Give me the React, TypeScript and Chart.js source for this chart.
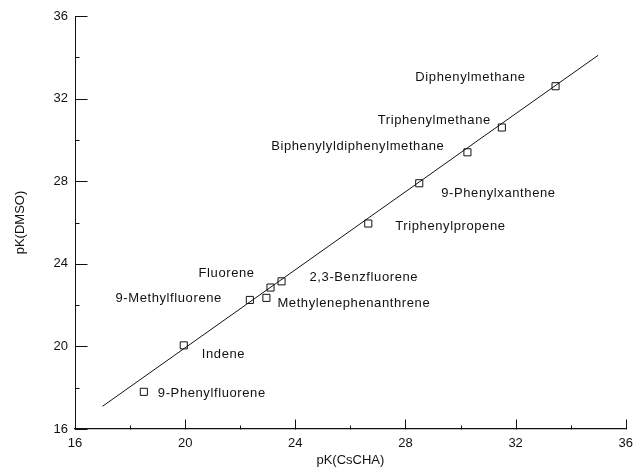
import React, { useEffect, useRef } from "react";
import { Chart, registerables } from "chart.js";

Chart.register(...registerables);

// ---- data ----
const compounds = [
  "9-Phenylfluorene",
  "Indene",
  "9-Methylfluorene",
  "Methylenephenanthrene",
  "Fluorene",
  "2,3-Benzfluorene",
  "Triphenylpropene",
  "9-Phenylxanthene",
  "Biphenylyldiphenylmethane",
  "Triphenylmethane",
  "Diphenylmethane",
];
const pKCsCHA = [18.5, 19.95, 22.35, 22.95, 23.1, 23.5, 26.65, 28.5, 30.25, 31.5, 33.45];
const pKDMSO = [17.8, 20.05, 22.25, 22.35, 22.85, 23.15, 25.95, 27.9, 29.4, 30.6, 32.6];

// fitted correlation line end points
const fitX = [17.0, 35.0];
const fitY = [17.1, 34.1];

// axis ticks
const xTickValues = [16, 18, 20, 22, 24, 26, 28, 30, 32, 34, 36];
const yTickValues = [16, 18, 20, 22, 24, 26, 28, 30, 32, 34, 36];
const majorTickValues = [16, 20, 24, 28, 32, 36];

// ---- layout / style (not data) ----
const FONT = "'Liberation Sans', Arial, sans-serif";
const INK = "#111";
// label placement relative to each point: [dx, dy, align]
const labelLayout: [number, number, CanvasTextAlign][] = [
  [14, 2, "left"],
  [18, 9, "left"],
  [-28, -2, "right"],
  [11, 6, "left"],
  [-72, -14, "left"],
  [28, -4, "left"],
  [27, 3, "left"],
  [22, 10, "left"],
  [-23, -6, "right"],
  [-11, -7, "right"],
  [-30, -9, "right"],
];

const annotatePlugin = {
  id: "annotate",
  afterDatasetsDraw(chart: any) {
    const { ctx, scales } = chart;
    const xs = scales.x;
    const ys = scales.y;
    ctx.save();
    ctx.strokeStyle = INK;
    ctx.lineWidth = 1;
    // inward tick marks
    const left = Math.round(xs.left) + 0.5;
    const bottom = Math.round(ys.bottom) + 0.5;
    yTickValues.forEach((v) => {
      const py = Math.round(ys.getPixelForValue(v)) + 0.5;
      const len = majorTickValues.includes(v) ? 12 : 4;
      ctx.beginPath();
      ctx.moveTo(left, py);
      ctx.lineTo(left + len, py);
      ctx.stroke();
    });
    xTickValues.forEach((v) => {
      const px = Math.round(xs.getPixelForValue(v)) + 0.5;
      const len = majorTickValues.includes(v) ? 10 : 4;
      ctx.beginPath();
      ctx.moveTo(px, bottom);
      ctx.lineTo(px, bottom - len);
      ctx.stroke();
    });
    // point labels
    ctx.fillStyle = INK;
    ctx.font = `13px ${FONT}`;
    (ctx as any).letterSpacing = "0.6px";
    ctx.textBaseline = "middle";
    compounds.forEach((name, i) => {
      const px = xs.getPixelForValue(pKCsCHA[i]);
      const py = ys.getPixelForValue(pKDMSO[i]);
      const [dx, dy, align] = labelLayout[i];
      ctx.textAlign = align;
      ctx.fillText(name, px + dx, py + dy);
    });
    ctx.restore();
  },
};

export default function App() {
  const ref = useRef<HTMLCanvasElement | null>(null);

  useEffect(() => {
    if (!ref.current) return;
    const chart = new Chart(ref.current, {
      type: "scatter",
      data: {
        datasets: [
          {
            label: "fit",
            type: "line",
            data: fitX.map((x, i) => ({ x, y: fitY[i] })),
            borderColor: INK,
            borderWidth: 1,
            pointRadius: 0,
            fill: false,
            showLine: true,
          } as any,
          {
            label: "compounds",
            data: pKCsCHA.map((x, i) => ({ x, y: pKDMSO[i] })),
            pointStyle: "rect",
            pointRadius: 5,
            pointBorderWidth: 1,
            pointBorderColor: INK,
            pointBackgroundColor: "rgba(255,255,255,0)",
            showLine: false,
          },
        ],
      },
      options: {
        responsive: false,
        animation: false,
        layout: { padding: { top: 16, right: 8, left: 0, bottom: 0 } },
        plugins: {
          legend: { display: false },
          tooltip: { enabled: false },
        },
        scales: {
          x: {
            type: "linear",
            min: 16,
            max: 36,
            grid: { display: false, drawTicks: false },
            border: { display: true, color: INK, width: 1.3 },
            ticks: {
              stepSize: 4,
              padding: 7,
              color: INK,
              font: { family: FONT, size: 13 },
            },
            title: {
              display: true,
              text: "pK(CsCHA)",
              color: INK,
              font: { family: FONT, size: 13, lineHeight: 1.2 },
              padding: { top: 0, bottom: 0.5 },
            },
            afterFit: (s: any) => {
              s.height = 40;
            },
          },
          y: {
            type: "linear",
            min: 16,
            max: 36,
            grid: { display: false, drawTicks: false },
            border: { display: true, color: INK, width: 1 },
            ticks: {
              stepSize: 4,
              padding: 7,
              color: INK,
              font: { family: FONT, size: 13 },
            },
            title: {
              display: true,
              text: "pK(DMSO)",
              color: INK,
              font: { family: FONT, size: 13, lineHeight: 1.2 },
              padding: { top: 13, bottom: 0 },
            },
            afterFit: (s: any) => {
              s.width = 75;
            },
          },
        },
      },
      plugins: [annotatePlugin],
    });
    return () => chart.destroy();
  }, []);

  return (
    <div
      style={{
        position: "fixed",
        left: 0,
        top: 0,
        width: 640,
        height: 469,
        background: "#fff",
      }}
    >
      <canvas ref={ref} width={640} height={469} style={{ display: "block" }} />
    </div>
  );
}
